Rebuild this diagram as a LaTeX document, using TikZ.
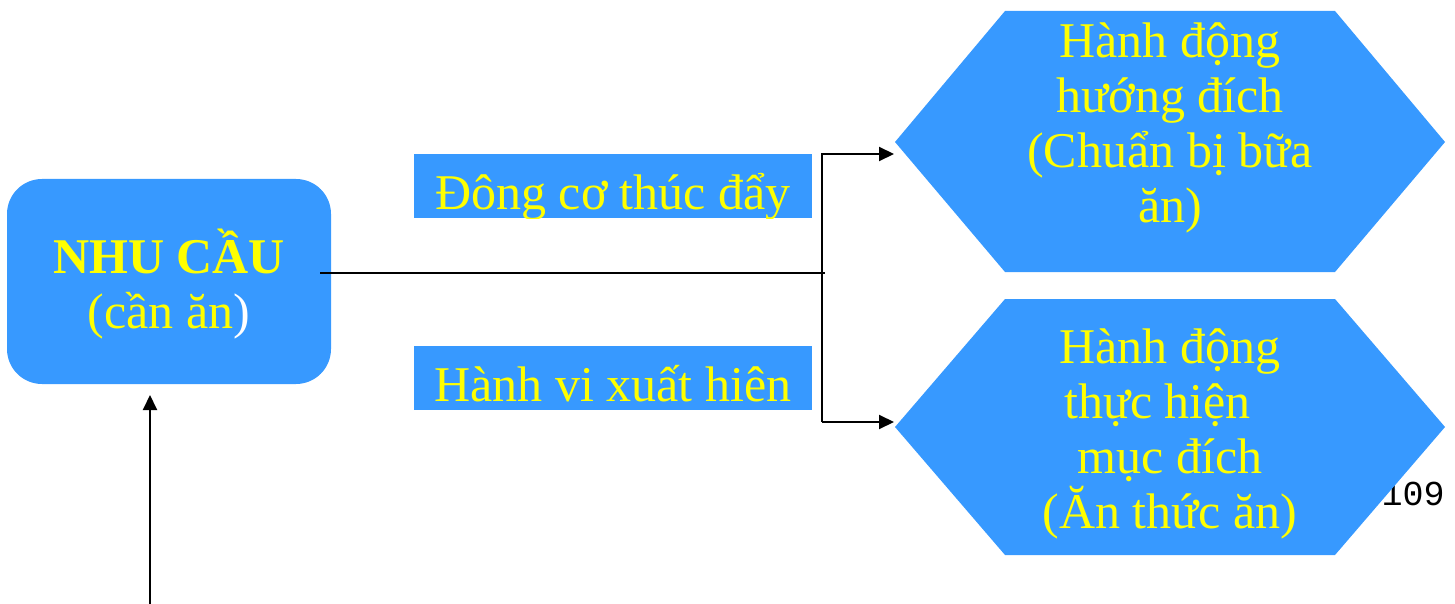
\documentclass[tikz,border=0pt]{standalone}
\usepackage{fontspec}
\setmainfont{Liberation Serif}
\newfontfamily\monofnt{Liberation Mono}
\usetikzlibrary{arrows.meta}
\definecolor{boxblue}{RGB}{55,153,255}
\definecolor{txtyellow}{RGB}{255,255,0}
\begin{document}
\begin{tikzpicture}[x=0.5pt,y=-0.5pt,
  conn/.style={line width=1pt, draw=black},
  arr/.style={conn,-{Triangle[length=7.5pt,width=7pt]}},
  bluefill/.style={fill=boxblue, draw=none},
  txt/.style={text=txtyellow, font=\fontsize{25}{27.5}\selectfont, inner sep=0pt, align=center},
  labelbox/.style={bluefill, minimum width=199pt, minimum height=32pt, inner sep=0pt}
]
\useasboundingbox (0,0) rectangle (1455,604);
% page number (partly hidden by the hexagon)
\node[anchor=base east, inner sep=0pt, font=\monofnt\fontsize{17.5}{20}\selectfont] (pg) at (1445,505) {109};
% left box
\node[bluefill, rounded corners=17.5pt, minimum width=162pt, minimum height=102.5pt, inner sep=0pt] (need) at (169,281.5) {};
\node[txt] (needtxt) at (169,284) {\textbf{NHU CẦU}\\(cần ăn\textcolor{white}{)}};
% label boxes
\node[labelbox] (m1) at (613,186) {};
\begin{scope}
  \clip (m1.north west) rectangle (m1.south east);
  \node[txt, anchor=base] (m1txt) at (613,210) {Đông cơ thúc đẩy};
\end{scope}
\node[labelbox] (m2) at (613,378) {};
\begin{scope}
  \clip (m2.north west) rectangle (m2.south east);
  \node[txt, anchor=base] (m2txt) at (613,401) {Hành vi xuất hiên};
\end{scope}
% hexagons
\fill[boxblue] (895,142) -- (1005,11) -- (1335,11) -- (1445,142) -- (1335,272) -- (1005,272) -- cycle;
\node[txt] (h1) at (1170,128) {Hành động\\hướng đích\\(Chuẩn bị bữa\\ăn)};
\fill[boxblue] (895,427) -- (1005,299) -- (1335,299) -- (1445,427) -- (1335,555) -- (1005,555) -- cycle;
\node[txt] (h2) at (1170,434) {Hành động\\thực hiện\rule{0.5em}{0pt}\\mục đích\\(Ăn thức ăn)};
% connectors
\coordinate (needout) at (320,273);
\coordinate (mid) at (825,273);
\coordinate (top) at (822,154);
\coordinate (bot) at (822,422);
\coordinate (h1in) at (894,154);
\coordinate (h2in) at (894,422);
\coordinate (src) at (150,604);
\coordinate (needin) at (150,395);
\draw[conn] (needout) -- (mid);
\draw[conn] (822,153.5) -- (bot);
\draw[arr] (top) -- (h1in);
\draw[arr] (bot) -- (h2in);
\draw[arr] (src) -- (needin);
\end{tikzpicture}
\end{document}
